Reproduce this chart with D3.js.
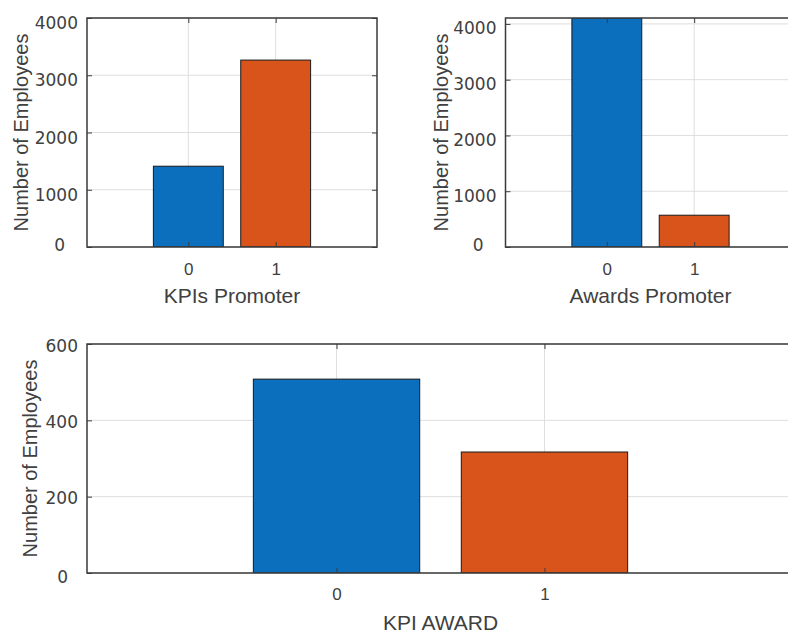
<!DOCTYPE html>
<html>
<head>
<meta charset="utf-8">
<script src="https://cdn.jsdelivr.net/npm/d3@7"></script>
<style>
  html, body { margin: 0; padding: 0; background: #fff; }
  svg { display: block; }
</style>
</head>
<body>
<svg id="chart" width="788" height="634"></svg>
<script>
// Employee counts by group (0 = no, 1 = yes)
const categories = [0, 1];
const kpiPromoterValues = [1411, 3265];
const awardsPromoterValues = [4106, 570];
const kpiAwardValues = [508, 317];

const topYTicks = [0, 1000, 2000, 3000, 4000];
const bottomYTicks = [0, 200, 400, 600];

const yAxisTitle = "Number of Employees";
const xTitles = ["KPIs Promoter", "Awards Promoter", "KPI AWARD"];

const barColors = ["#0b6fbd", "#d9541a"];
const textColor = "#404040";

const svg = d3.select("#chart");

function drawPanel(cfg, idx) {
  const x = d3.scaleLinear().domain(cfg.xDomain).range(cfg.xRange);
  const y = d3.scaleLinear().domain(cfg.yDomain).range(cfg.yRange);
  const [x0, x1] = cfg.xRange;
  const [yb, yt] = cfg.yRange;

  const g = svg.append("g");

  const clipId = "clip" + idx;
  g.append("clipPath").attr("id", clipId)
    .append("rect")
    .attr("x", x0).attr("y", yt)
    .attr("width", x1 - x0).attr("height", yb - yt);

  // grid
  const grid = g.append("g").attr("stroke", "#dedede").attr("stroke-width", 1);
  grid.selectAll("line.h").data(cfg.yTicks).join("line")
    .attr("x1", x0).attr("x2", x1)
    .attr("y1", d => y(d)).attr("y2", d => y(d));
  grid.selectAll("line.v").data(categories).join("line")
    .attr("x1", d => x(d)).attr("x2", d => x(d))
    .attr("y1", yt).attr("y2", yb);

  // bars
  g.append("g").attr("clip-path", `url(#${clipId})`)
    .selectAll("rect").data(cfg.values).join("rect")
    .attr("x", (d, i) => x(categories[i] - 0.4))
    .attr("width", (d, i) => x(categories[i] + 0.4) - x(categories[i] - 0.4))
    .attr("y", d => y(d))
    .attr("height", d => y(0) - y(d))
    .attr("fill", (d, i) => barColors[i])
    .attr("stroke", "#1a1a1a")
    .attr("stroke-width", 1);

  // y axis: inward ticks and labels
  const ya = g.append("g").attr("transform", `translate(${x0},0)`)
    .call(d3.axisLeft(y).tickValues(cfg.yTicks).tickSize(-5).tickPadding(9).tickFormat(d3.format("d")));
  ya.select(".domain").remove();
  ya.selectAll("line").attr("stroke", "#3c3c3c");
  ya.selectAll("text")
    .attr("fill", textColor)
    .style("font-family", "'DejaVu Sans', sans-serif")
    .style("font-size", "17px")
    .attr("dy", d => d === 0 ? cfg.zeroDy : cfg.labelDy)
    .attr("dx", d => d === 0 ? cfg.zeroDx : 0);

  // mirrored ticks on the right edge
  const yr = g.append("g").attr("transform", `translate(${x1},0)`)
    .call(d3.axisRight(y).tickValues(cfg.yTicks).tickSize(-5).tickFormat(""));
  yr.select(".domain").remove();
  yr.selectAll("line").attr("stroke", "#3c3c3c");

  // x axis
  const xa = g.append("g").attr("transform", `translate(0,${yb})`)
    .call(d3.axisBottom(x).tickValues(categories).tickSize(-5).tickPadding(cfg.xTickPad).tickFormat(d3.format("d")));
  xa.select(".domain").remove();
  xa.selectAll("line").attr("stroke", "#3c3c3c");
  xa.selectAll("text")
    .attr("fill", textColor)
    .style("font-family", "'Liberation Sans', Arial, sans-serif")
    .style("font-size", "17px");

  const xt = g.append("g").attr("transform", `translate(0,${yt})`)
    .call(d3.axisTop(x).tickValues(categories).tickSize(-5).tickFormat(""));
  xt.select(".domain").remove();
  xt.selectAll("line").attr("stroke", "#3c3c3c");

  // box
  g.append("rect")
    .attr("x", x0).attr("y", yt)
    .attr("width", x1 - x0).attr("height", yb - yt)
    .attr("fill", "none")
    .attr("stroke", "#3a3a3a")
    .attr("stroke-width", 1.5);

  // axis titles
  g.append("text")
    .attr("x", x(0.5)).attr("y", cfg.xTitleY)
    .attr("text-anchor", "middle")
    .attr("fill", textColor)
    .style("font-family", "'Liberation Sans', Arial, sans-serif")
    .style("font-size", "21px")
    .text(cfg.xTitle);

  g.append("text")
    .attr("transform", `translate(${cfg.yTitleX},${(yt + yb) / 2}) rotate(-90)`)
    .attr("text-anchor", "middle")
    .attr("dominant-baseline", "central")
    .attr("fill", textColor)
    .style("font-family", "'Liberation Sans', Arial, sans-serif")
    .style("font-size", "20px")
    .text(yAxisTitle);
}

const panels = [
  {
    values: kpiPromoterValues, yTicks: topYTicks, xTitle: xTitles[0],
    xDomain: [-1.16, 2.16], xRange: [87, 377],
    yDomain: [0, 4000], yRange: [247, 18],
    labelDy: "0.62em", zeroDy: "0.2em", zeroDx: -13,
    xTickPad: 16, xTitleY: 303, yTitleX: 21
  },
  {
    values: awardsPromoterValues, yTicks: topYTicks, xTitle: xTitles[1],
    xDomain: [-1.16, 2.16], xRange: [505.5, 795.5],
    yDomain: [0, 4106], yRange: [247, 18],
    labelDy: "0.58em", zeroDy: "0.2em", zeroDx: -13,
    xTickPad: 16, xTitleY: 303, yTitleX: 441
  },
  {
    values: kpiAwardValues, yTicks: bottomYTicks, xTitle: xTitles[2],
    xDomain: [-1.2, 2.2], xRange: [87, 794],
    yDomain: [0, 600], yRange: [573, 344],
    labelDy: "0.42em", zeroDy: "0.55em", zeroDx: -10,
    xTickPad: 15, xTitleY: 630, yTitleX: 30
  }
];

panels.forEach(drawPanel);
</script>
</body>
</html>
